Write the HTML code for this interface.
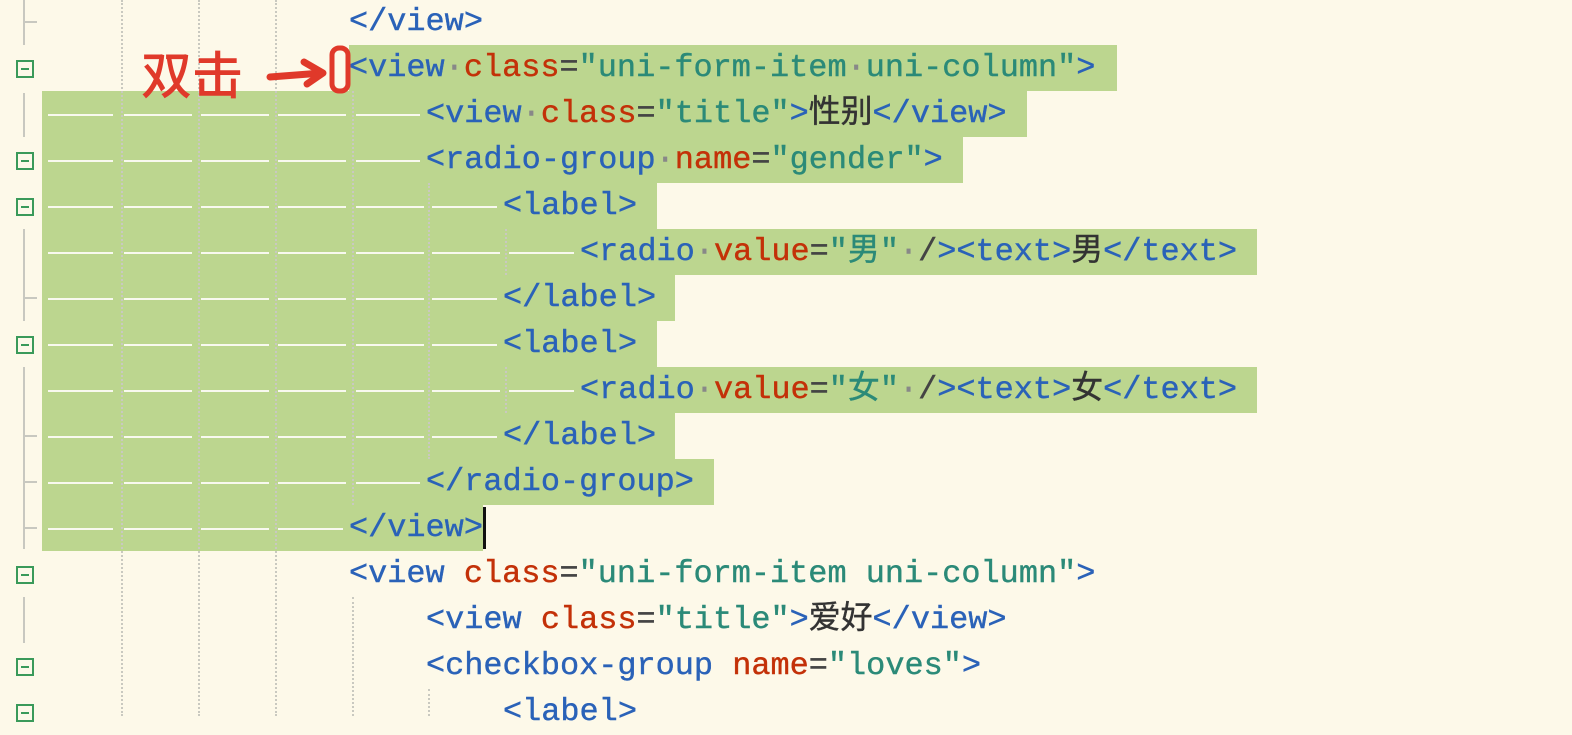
<!DOCTYPE html>
<html><head><meta charset="utf-8"><style>
body{margin:0;width:1572px;height:716px;overflow:hidden;background:#fdf9e9;position:relative;font-family:"Liberation Mono","Noto Sans CJK SC",monospace;}
.a{position:absolute}
.sel{position:absolute;background:#bcd68f;height:46px}
.t{position:absolute;white-space:pre;font-size:31.9px;line-height:46px;height:46px;color:#333;-webkit-text-stroke:0.4px currentColor}
.g{color:#2a62b8}.r{color:#c33108}.s{color:#2b8a78}.e{color:#444}.d{color:#888}
.dash{position:absolute;height:2px;background:#f8f9ef}
.guide{position:absolute;width:0;border-left:2px dotted #c9c9c0}
.box{position:absolute;left:16px;width:14px;height:14px;border:2px solid #3a9a5a}
.box:after{content:"";position:absolute;left:3px;top:6px;width:8px;height:2px;background:#3a9a5a}
.vl{position:absolute;left:23px;width:2px;background:#c8c8c0}
.tk{position:absolute;left:23px;width:14px;height:2px;background:#c8c8c0}
</style></head><body>
<div class="sel" style="left:349px;top:45px;width:768px"></div>
<div class="sel" style="left:42px;top:91px;width:985px"></div>
<div class="sel" style="left:42px;top:137px;width:921px"></div>
<div class="sel" style="left:42px;top:183px;width:615px"></div>
<div class="sel" style="left:42px;top:229px;width:1215px"></div>
<div class="sel" style="left:42px;top:275px;width:633px"></div>
<div class="sel" style="left:42px;top:321px;width:615px"></div>
<div class="sel" style="left:42px;top:367px;width:1215px"></div>
<div class="sel" style="left:42px;top:413px;width:633px"></div>
<div class="sel" style="left:42px;top:459px;width:672px"></div>
<div class="sel" style="left:42px;top:505px;width:441px"></div>

<div class="guide" style="left:121px;top:0;height:716px"></div>
<div class="guide" style="left:198px;top:0;height:716px"></div>
<div class="guide" style="left:275px;top:0;height:716px"></div>
<div class="guide" style="left:352px;top:91px;height:414px"></div>
<div class="guide" style="left:352px;top:597px;height:119px"></div>
<div class="guide" style="left:428px;top:183px;height:276px"></div>
<div class="guide" style="left:428px;top:689px;height:27px"></div>
<div class="guide" style="left:505px;top:229px;height:46px"></div>
<div class="guide" style="left:505px;top:367px;height:46px"></div>

<div class="dash" style="left:48px;top:114px;width:65px"></div><div class="dash" style="left:124px;top:114px;width:68px"></div><div class="dash" style="left:201px;top:114px;width:68px"></div><div class="dash" style="left:278px;top:114px;width:68px"></div><div class="dash" style="left:356px;top:114px;width:64px"></div>
<div class="dash" style="left:48px;top:160px;width:65px"></div><div class="dash" style="left:124px;top:160px;width:68px"></div><div class="dash" style="left:201px;top:160px;width:68px"></div><div class="dash" style="left:278px;top:160px;width:68px"></div><div class="dash" style="left:356px;top:160px;width:64px"></div>
<div class="dash" style="left:48px;top:206px;width:65px"></div><div class="dash" style="left:124px;top:206px;width:68px"></div><div class="dash" style="left:201px;top:206px;width:68px"></div><div class="dash" style="left:278px;top:206px;width:68px"></div><div class="dash" style="left:356px;top:206px;width:68px"></div><div class="dash" style="left:432px;top:206px;width:65px"></div>
<div class="dash" style="left:48px;top:252px;width:65px"></div><div class="dash" style="left:124px;top:252px;width:68px"></div><div class="dash" style="left:201px;top:252px;width:68px"></div><div class="dash" style="left:278px;top:252px;width:68px"></div><div class="dash" style="left:356px;top:252px;width:68px"></div><div class="dash" style="left:432px;top:252px;width:68px"></div><div class="dash" style="left:509px;top:252px;width:65px"></div>
<div class="dash" style="left:48px;top:298px;width:65px"></div><div class="dash" style="left:124px;top:298px;width:68px"></div><div class="dash" style="left:201px;top:298px;width:68px"></div><div class="dash" style="left:278px;top:298px;width:68px"></div><div class="dash" style="left:356px;top:298px;width:68px"></div><div class="dash" style="left:432px;top:298px;width:65px"></div>
<div class="dash" style="left:48px;top:344px;width:65px"></div><div class="dash" style="left:124px;top:344px;width:68px"></div><div class="dash" style="left:201px;top:344px;width:68px"></div><div class="dash" style="left:278px;top:344px;width:68px"></div><div class="dash" style="left:356px;top:344px;width:68px"></div><div class="dash" style="left:432px;top:344px;width:65px"></div>
<div class="dash" style="left:48px;top:390px;width:65px"></div><div class="dash" style="left:124px;top:390px;width:68px"></div><div class="dash" style="left:201px;top:390px;width:68px"></div><div class="dash" style="left:278px;top:390px;width:68px"></div><div class="dash" style="left:356px;top:390px;width:68px"></div><div class="dash" style="left:432px;top:390px;width:68px"></div><div class="dash" style="left:509px;top:390px;width:65px"></div>
<div class="dash" style="left:48px;top:436px;width:65px"></div><div class="dash" style="left:124px;top:436px;width:68px"></div><div class="dash" style="left:201px;top:436px;width:68px"></div><div class="dash" style="left:278px;top:436px;width:68px"></div><div class="dash" style="left:356px;top:436px;width:68px"></div><div class="dash" style="left:432px;top:436px;width:65px"></div>
<div class="dash" style="left:48px;top:482px;width:65px"></div><div class="dash" style="left:124px;top:482px;width:68px"></div><div class="dash" style="left:201px;top:482px;width:68px"></div><div class="dash" style="left:278px;top:482px;width:68px"></div><div class="dash" style="left:356px;top:482px;width:64px"></div>
<div class="dash" style="left:48px;top:528px;width:65px"></div><div class="dash" style="left:124px;top:528px;width:68px"></div><div class="dash" style="left:201px;top:528px;width:68px"></div><div class="dash" style="left:278px;top:528px;width:65px"></div>

<div class="vl" style="top:0;height:45px"></div><div class="tk" style="top:21px"></div>
<div class="box" style="top:60px"></div>
<div class="vl" style="top:93px;height:44px"></div>
<div class="box" style="top:152px"></div>
<div class="box" style="top:198px"></div>
<div class="vl" style="top:229px;height:92px"></div><div class="tk" style="top:297px"></div>
<div class="box" style="top:336px"></div>
<div class="vl" style="top:367px;height:182px"></div><div class="tk" style="top:435px"></div><div class="tk" style="top:481px"></div><div class="tk" style="top:527px"></div>
<div class="box" style="top:566px"></div>
<div class="vl" style="top:597px;height:46px"></div>
<div class="box" style="top:658px"></div>
<div class="box" style="top:704px"></div>

<div class="t" style="left:349px;top:-1px"><span class="g">&lt;/view&gt;</span></div>
<div class="t" style="left:349px;top:45px"><span class="g">&lt;view</span><span class="d">·</span><span class="r">class</span><span class="e">=</span><span class="s">"uni-form-item<span class="d">·</span>uni-column"</span><span class="g">&gt;</span></div>
<div class="t" style="left:426px;top:91px"><span class="g">&lt;view</span><span class="d">·</span><span class="r">class</span><span class="e">=</span><span class="s">"title"</span><span class="g">&gt;</span>性别<span class="g">&lt;/view&gt;</span></div>
<div class="t" style="left:426px;top:137px"><span class="g">&lt;radio-group</span><span class="d">·</span><span class="r">name</span><span class="e">=</span><span class="s">"gender"</span><span class="g">&gt;</span></div>
<div class="t" style="left:503px;top:183px"><span class="g">&lt;label&gt;</span></div>
<div class="t" style="left:580px;top:229px"><span class="g">&lt;radio</span><span class="d">·</span><span class="r">value</span><span class="e">=</span><span class="s">"男"</span><span class="d">·</span><span class="e">/</span><span class="g">&gt;&lt;text&gt;</span>男<span class="g">&lt;/text&gt;</span></div>
<div class="t" style="left:503px;top:275px"><span class="g">&lt;/label&gt;</span></div>
<div class="t" style="left:503px;top:321px"><span class="g">&lt;label&gt;</span></div>
<div class="t" style="left:580px;top:367px"><span class="g">&lt;radio</span><span class="d">·</span><span class="r">value</span><span class="e">=</span><span class="s">"女"</span><span class="d">·</span><span class="e">/</span><span class="g">&gt;&lt;text&gt;</span>女<span class="g">&lt;/text&gt;</span></div>
<div class="t" style="left:503px;top:413px"><span class="g">&lt;/label&gt;</span></div>
<div class="t" style="left:426px;top:459px"><span class="g">&lt;/radio-group&gt;</span></div>
<div class="t" style="left:349px;top:505px"><span class="g">&lt;/view&gt;</span></div>
<div class="a" style="left:483px;top:507px;width:3px;height:42px;background:#111"></div>
<div class="t" style="left:349px;top:551px"><span class="g">&lt;view</span> <span class="r">class</span><span class="e">=</span><span class="s">"uni-form-item uni-column"</span><span class="g">&gt;</span></div>
<div class="t" style="left:426px;top:597px"><span class="g">&lt;view</span> <span class="r">class</span><span class="e">=</span><span class="s">"title"</span><span class="g">&gt;</span>爱好<span class="g">&lt;/view&gt;</span></div>
<div class="t" style="left:426px;top:643px"><span class="g">&lt;checkbox-group</span> <span class="r">name</span><span class="e">=</span><span class="s">"loves"</span><span class="g">&gt;</span></div>
<div class="t" style="left:503px;top:689px"><span class="g">&lt;label&gt;</span></div>

<div class="a" style="left:141px;top:42px;font-family:'Noto Sans CJK SC',sans-serif;font-size:51px;line-height:60px;color:#e0392a;font-weight:500">双击</div>
<svg class="a" style="left:260px;top:45px" width="100" height="52">
<path d="M10 32 L62 28" stroke="#e0392a" stroke-width="7" stroke-linecap="round" fill="none"/>
<path d="M44 17 L63 28 L47 39" stroke="#e0392a" stroke-width="7" stroke-linecap="round" stroke-linejoin="round" fill="none"/>
<rect x="72" y="3" width="16" height="43" rx="7" stroke="#e0392a" stroke-width="5" fill="none"/>
</svg>
</body></html>
